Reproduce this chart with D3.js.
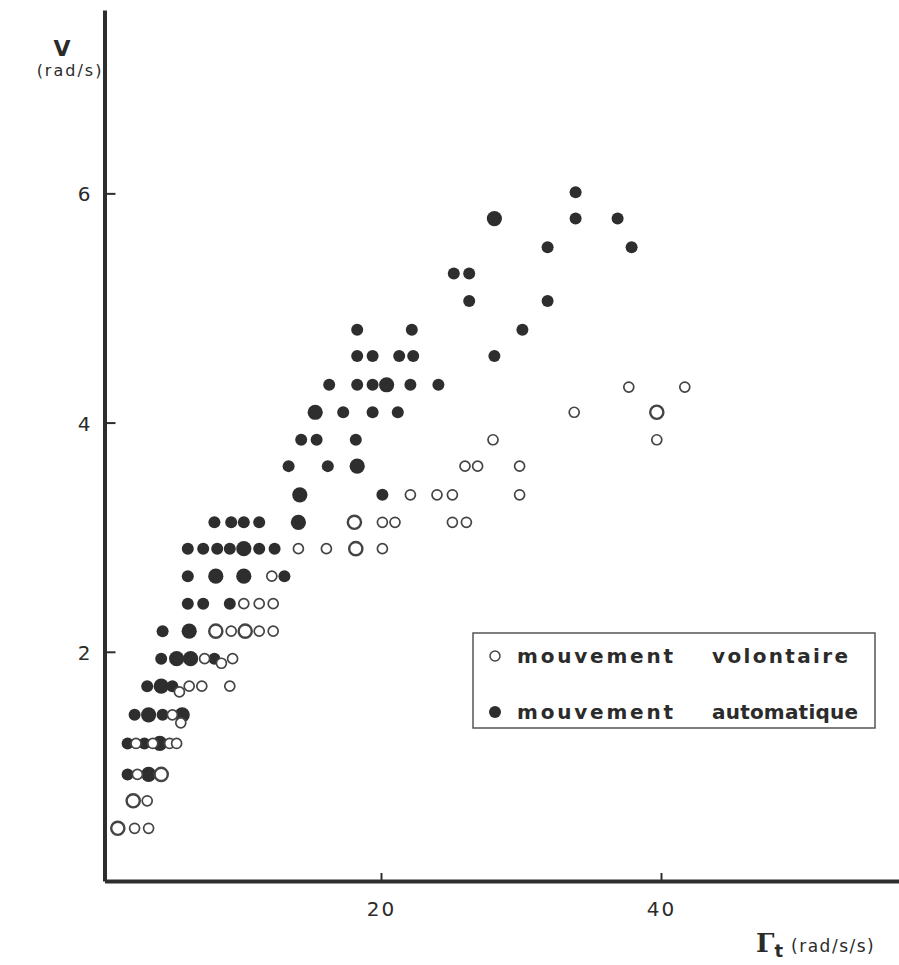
<!DOCTYPE html>
<html>
<head>
<meta charset="utf-8">
<script src="https://cdn.jsdelivr.net/npm/d3@7/dist/d3.min.js"></script>
<style>
  html, body { margin: 0; padding: 0; background: #fff; }
  svg { display: block; }
  text { fill: #2b2b2b; }
</style>
</head>
<body>
<svg id="chart" width="899" height="965"></svg>
<script>
// Tangential acceleration Γt (rad/s/s) against peak velocity V (rad/s).
// count = number of coinciding trials drawn at that spot (2 → larger marker).

// mouvement automatique (filled)
const autoX = [33.9, 28.1, 33.9, 36.9, 31.9, 37.9, 25.2, 26.3, 26.3, 31.9,
  18.3, 22.2, 30.1, 18.3, 19.4, 21.3, 22.3, 28.1,
  16.3, 18.3, 19.4, 20.4, 22.1, 24.1, 15.3, 17.3, 19.4, 21.2,
  14.3, 15.4, 18.2, 13.4, 16.2, 18.3, 14.2, 20.1,
  8.1, 9.3, 10.2, 11.3, 14.1,
  6.2, 7.3, 8.3, 9.2, 10.2, 11.3, 12.4,
  6.2, 8.2, 10.2, 13.1, 6.2, 7.3, 9.2, 4.4, 6.3,
  4.3, 5.4, 6.4, 8.1, 3.3, 4.3, 5.1, 2.4, 3.4, 4.4, 5.8,
  1.9, 3.1, 4.2, 1.9, 3.4];
const autoV = [6.01, 5.78, 5.78, 5.78, 5.53, 5.53, 5.30, 5.30, 5.06, 5.06,
  4.81, 4.81, 4.81, 4.58, 4.58, 4.58, 4.58, 4.58,
  4.33, 4.33, 4.33, 4.33, 4.33, 4.33, 4.09, 4.09, 4.09, 4.09,
  3.85, 3.85, 3.85, 3.62, 3.62, 3.62, 3.37, 3.37,
  3.13, 3.13, 3.13, 3.13, 3.13,
  2.90, 2.90, 2.90, 2.90, 2.90, 2.90, 2.90,
  2.66, 2.66, 2.66, 2.66, 2.42, 2.42, 2.42, 2.18, 2.18,
  1.94, 1.94, 1.94, 1.94, 1.70, 1.70, 1.70, 1.45, 1.45, 1.45, 1.45,
  1.20, 1.20, 1.20, 0.93, 0.93];
const autoCount = [1, 2, 1, 1, 1, 1, 1, 1, 1, 1,
  1, 1, 1, 1, 1, 1, 1, 1,
  1, 1, 1, 2, 1, 1, 2, 1, 1, 1,
  1, 1, 1, 1, 1, 2, 2, 1,
  1, 1, 1, 1, 2,
  1, 1, 1, 1, 2, 1, 1,
  1, 2, 2, 1, 1, 1, 1, 1, 2,
  1, 2, 2, 1, 1, 2, 1, 1, 2, 1, 2,
  1, 1, 2, 1, 2];

// mouvement volontaire (open)
const volX = [37.7, 41.7, 33.8, 39.7, 28.0, 39.7, 26.0, 26.9, 29.9,
  22.1, 24.0, 25.1, 29.9, 18.1, 20.1, 21.0, 25.1, 26.1,
  14.1, 16.1, 18.2, 20.1, 12.2, 10.2, 11.3, 12.3,
  8.2, 9.3, 10.3, 11.3, 12.3, 7.4, 8.6, 9.4,
  5.6, 6.3, 7.2, 9.2, 5.1, 5.7,
  2.5, 3.7, 4.9, 5.4, 2.6, 4.3, 2.3, 3.3, 1.2, 2.4, 3.4];
const volV = [4.31, 4.31, 4.09, 4.09, 3.85, 3.85, 3.62, 3.62, 3.62,
  3.37, 3.37, 3.37, 3.37, 3.13, 3.13, 3.13, 3.13, 3.13,
  2.90, 2.90, 2.90, 2.90, 2.66, 2.42, 2.42, 2.42,
  2.18, 2.18, 2.18, 2.18, 2.18, 1.94, 1.90, 1.94,
  1.65, 1.70, 1.70, 1.70, 1.45, 1.38,
  1.20, 1.20, 1.20, 1.20, 0.93, 0.93, 0.70, 0.70, 0.46, 0.46, 0.46];
const volCount = [1, 1, 1, 2, 1, 1, 1, 1, 1,
  1, 1, 1, 1, 2, 1, 1, 1, 1,
  1, 1, 2, 1, 1, 1, 1, 1,
  2, 1, 2, 1, 1, 1, 1, 1,
  1, 1, 1, 1, 1, 1,
  1, 1, 1, 1, 1, 2, 2, 1, 2, 1, 1];

const xTicks = [20, 40];
const yTicks = [2, 4, 6];
const legendLabels = [["mouvement", "volontaire"], ["mouvement", "automatique"]];

const autoPts = autoX.map((x, i) => ({ x, v: autoV[i], n: autoCount[i] }));
const volPts = volX.map((x, i) => ({ x, v: volV[i], n: volCount[i] }));

const svg = d3.select("#chart");
const ink = "#2e2e2e";

const x = d3.scaleLinear().domain([0.25, 57]).range([104.5, 899]);
const y = d3.scaleLinear().domain([0, 7.6]).range([881, 10]);
const r = d3.scaleOrdinal().domain([1, 2]).range([6, 7.6]);

// axes
const xAxis = svg.append("g")
  .attr("transform", `translate(0,${y(0)})`)
  .call(d3.axisBottom(x).tickValues(xTicks).tickSize(-8).tickSizeOuter(0).tickPadding(21));
const yAxis = svg.append("g")
  .attr("transform", `translate(${x(0.25)},0)`)
  .call(d3.axisLeft(y).tickValues(yTicks).tickSize(-11).tickSizeOuter(0).tickPadding(12));

[xAxis, yAxis].forEach(g => {
  g.select(".domain").attr("stroke", ink).attr("stroke-width", 4);
  g.selectAll(".tick line").attr("stroke", ink).attr("stroke-width", 2);
  g.selectAll(".tick text")
    .attr("fill", "#333")
    .style("font-family", "'DejaVu Sans', sans-serif")
    .style("font-size", "20px")
    .style("letter-spacing", "2px");
});
yAxis.selectAll(".tick text").attr("dy", "0.38em");

// axis titles
svg.append("text").attr("x", 62).attr("y", 56).attr("text-anchor", "middle")
  .style("font-family", "'DejaVu Sans', sans-serif").style("font-size", "22px")
  .style("font-weight", "bold")
  .text("V");
svg.append("text").attr("x", 70).attr("y", 76).attr("text-anchor", "middle")
  .style("font-family", "'DejaVu Sans', sans-serif").style("font-size", "16px")
  .style("letter-spacing", "2px")
  .text("(rad/s)");

const xt = svg.append("text").attr("x", 756).attr("y", 952)
  .style("font-family", "'DejaVu Sans', sans-serif");
xt.append("tspan").style("font-family", "'DejaVu Serif', serif").style("font-weight", "bold")
  .style("font-size", "26px").text("Γ");
xt.append("tspan").attr("dy", 5).style("font-weight", "bold").style("font-size", "18px").text("t");
xt.append("tspan").attr("dx", 8).attr("dy", -5).style("font-size", "17px")
  .style("letter-spacing", "1.5px").text("(rad/s/s)");

// points: filled first, open circles (white inside) on top
svg.append("g").selectAll("circle").data(autoPts).join("circle")
  .attr("cx", d => x(d.x)).attr("cy", d => y(d.v))
  .attr("r", d => r(d.n)).attr("fill", ink);

svg.append("g").selectAll("circle").data(volPts).join("circle")
  .attr("cx", d => x(d.x)).attr("cy", d => y(d.v))
  .attr("r", d => r(d.n) - 1).attr("fill", "#fff")
  .attr("stroke", "#444").attr("stroke-width", d => d.n > 1 ? 2.4 : 1.7);

// legend
const lg = svg.append("g");
lg.append("rect").attr("x", 473).attr("y", 633).attr("width", 402).attr("height", 95)
  .attr("fill", "#fff").attr("stroke", "#555").attr("stroke-width", 1.5);
const rows = [{ filled: false, cy: 656 }, { filled: true, cy: 712 }];
rows.forEach((row, i) => {
  lg.append("circle").attr("cx", 495).attr("cy", row.cy)
    .attr("r", row.filled ? 6 : 5)
    .attr("fill", row.filled ? ink : "#fff")
    .attr("stroke", row.filled ? "none" : "#444").attr("stroke-width", 1.5);
  const t = lg.append("text").attr("y", row.cy + 7)
    .style("font-family", "'DejaVu Sans', sans-serif")
    .style("font-weight", "bold").style("font-size", "20px");
  t.append("tspan").attr("x", 517).attr("textLength", 156).attr("lengthAdjust", "spacing")
    .text(legendLabels[i][0]);
  t.append("tspan").attr("x", 712).attr("textLength", i === 0 ? 136 : 146)
    .attr("lengthAdjust", "spacing").text(legendLabels[i][1]);
});
</script>
</body>
</html>
